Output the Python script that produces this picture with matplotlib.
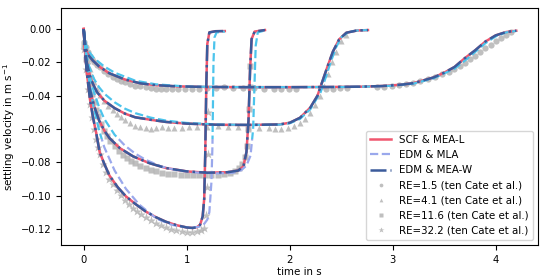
import numpy as np
import matplotlib
matplotlib.use("Agg")
import matplotlib.pyplot as plt
from matplotlib.patches import Rectangle

# model curves, SCF & MEA-L and EDM & MEA-W lie on top of each other
t15 = [0, 0.01, 0.025, 0.05, 0.09, 0.15, 0.25, 0.4, 0.55, 0.7, 0.9, 1.2, 1.6, 2.0, 2.4, 2.7, 2.9,
       3.0, 3.1, 3.2, 3.3, 3.4, 3.5, 3.6, 3.7, 3.8, 3.9, 4.0, 4.1, 4.2]
v15 = [0, -0.007, -0.0125, -0.016, -0.019, -0.0225, -0.0266, -0.0303, -0.0326, -0.0337, -0.0344,
       -0.0348, -0.0349, -0.0349, -0.0348, -0.0346, -0.0342, -0.0338, -0.0333, -0.0325, -0.0308,
       -0.029, -0.0262, -0.0228, -0.0175, -0.0128, -0.0075, -0.0038, -0.0018, -0.001]
t15d = [0, 0.02, 0.05, 0.1, 0.2, 0.3, 0.5, 0.7, 1.0, 1.5, 2.0, 2.5, 2.8, 3.0, 3.2, 3.4, 3.6, 3.7,
        3.8, 3.9, 4.0, 4.1, 4.2]
v15d = [0, -0.009, -0.0135, -0.0175, -0.0225, -0.0262, -0.031, -0.0332, -0.0345, -0.0349, -0.0349,
        -0.0348, -0.0345, -0.034, -0.0328, -0.0295, -0.0238, -0.019, -0.0138, -0.0085, -0.0044,
        -0.002, -0.0011]

t41 = [0, 0.01, 0.03, 0.06, 0.09, 0.13, 0.2, 0.3, 0.4, 0.5, 0.65, 0.8, 1.0, 1.3, 1.6, 1.9, 2.0,
       2.1, 2.2, 2.27, 2.32, 2.37, 2.42, 2.48, 2.55, 2.65, 2.76]
v41 = [0, -0.01, -0.02, -0.028, -0.033, -0.038, -0.043, -0.0475, -0.0508, -0.053, -0.0545, -0.0558,
       -0.0568, -0.0575, -0.0576, -0.0573, -0.0563, -0.0533, -0.0472, -0.04, -0.031, -0.022,
       -0.0135, -0.0062, -0.0022, -0.0009, -0.0006]
t41d = [0, 0.02, 0.05, 0.1, 0.15, 0.2, 0.3, 0.4, 0.5, 0.65, 0.8, 1.0, 1.3, 1.6, 1.9, 2.0, 2.1, 2.2,
        2.3, 2.35, 2.4, 2.45, 2.5, 2.57, 2.65, 2.76]
v41d = [0, -0.013, -0.022, -0.03, -0.035, -0.0388, -0.044, -0.0478, -0.0505, -0.0532, -0.055,
        -0.0564, -0.0573, -0.0576, -0.0574, -0.0566, -0.054, -0.0482, -0.038, -0.029, -0.0195,
        -0.011, -0.005, -0.0018, -0.0009, -0.0006]

t116 = [0, 0.01, 0.03, 0.06, 0.1, 0.15, 0.2, 0.25, 0.35, 0.48, 0.64, 0.8, 1.0, 1.2, 1.4, 1.5,
        1.55, 1.58, 1.6, 1.615, 1.63, 1.66, 1.76]
v116 = [0, -0.012, -0.025, -0.036, -0.046, -0.055, -0.061, -0.0655, -0.0715, -0.0765, -0.0806,
        -0.0835, -0.0855, -0.0863, -0.086, -0.085, -0.0826, -0.074, -0.055, -0.025, -0.006,
        -0.0015, -0.0006]
t116d = [0, 0.02, 0.05, 0.1, 0.15, 0.2, 0.3, 0.4, 0.5, 0.6, 0.75, 0.9, 1.1, 1.3, 1.45, 1.53, 1.58,
         1.62, 1.645, 1.66, 1.67, 1.69, 1.76]
v116d = [0, -0.014, -0.026, -0.038, -0.047, -0.054, -0.0635, -0.07, -0.0748, -0.0785, -0.0825,
         -0.0848, -0.0862, -0.0867, -0.0863, -0.0848, -0.082, -0.076, -0.06, -0.03, -0.01, -0.002,
         -0.0008]

t322 = [0, 0.01, 0.03, 0.06, 0.09, 0.12, 0.155, 0.2, 0.25, 0.33, 0.41, 0.5, 0.6, 0.7, 0.8, 0.9,
        1.0, 1.06, 1.1, 1.13, 1.155, 1.17, 1.18, 1.19, 1.2, 1.22, 1.28, 1.37]
v322 = [0, -0.01, -0.026, -0.042, -0.053, -0.062, -0.074, -0.081, -0.088, -0.095, -0.1005, -0.105,
        -0.1095, -0.113, -0.1158, -0.1178, -0.1192, -0.1195, -0.119, -0.1176, -0.1126, -0.102,
        -0.075, -0.035, -0.009, -0.002, -0.0013, -0.0012]
t322d = [0, 0.02, 0.05, 0.1, 0.15, 0.2, 0.3, 0.41, 0.54, 0.71, 0.85, 0.95, 1.05, 1.12, 1.17, 1.2,
         1.22, 1.24, 1.25, 1.255, 1.26, 1.27, 1.29, 1.37]
v322d = [0, -0.014, -0.03, -0.048, -0.061, -0.071, -0.085, -0.096, -0.1055, -0.114, -0.1175,
         -0.1188, -0.1192, -0.1188, -0.117, -0.1145, -0.11, -0.092, -0.07, -0.045, -0.02, -0.005,
         -0.002, -0.0015]

# experiments (ten Cate et al.)
c_t = [0.0, 0.02, 0.04, 0.06, 0.08, 0.1, 0.13, 0.16, 0.2, 0.24, 0.28, 0.32, 0.36, 0.4, 0.45, 0.5,
       0.55, 0.6, 0.65, 0.7, 0.75, 0.8, 0.86, 0.92, 0.98, 1.05, 1.12, 1.2, 1.28, 1.36, 1.45, 1.55,
       1.65, 1.75, 1.85, 1.92, 1.99, 2.06, 2.35, 2.42, 2.49, 2.56, 2.85, 2.92, 2.99, 3.06, 3.13,
       3.2, 3.27, 3.34, 3.41, 3.48, 3.55, 3.6, 3.65, 3.7, 3.75, 3.8, 3.85, 3.9, 3.95, 4.0, 4.05,
       4.1, 4.15]
c_v = [-0.008, -0.011, -0.014, -0.016, -0.018, -0.0195, -0.0215, -0.023, -0.025, -0.027, -0.0285,
       -0.03, -0.031, -0.032, -0.033, -0.034, -0.0345, -0.035, -0.0355, -0.0358, -0.036, -0.036,
       -0.0362, -0.0362, -0.036, -0.036, -0.0358, -0.0355, -0.0352, -0.035, -0.0352, -0.0354,
       -0.0356, -0.0358, -0.036, -0.0362, -0.0362, -0.0358, -0.036, -0.0358, -0.0356, -0.0355,
       -0.0348, -0.0346, -0.0342, -0.0337, -0.0331, -0.0324, -0.0314, -0.0302, -0.0288, -0.0272,
       -0.0255, -0.024, -0.0222, -0.0202, -0.0182, -0.016, -0.0138, -0.0115, -0.0093, -0.0072,
       -0.0052, -0.0034, -0.002]
tr_t = [0.0, 0.02, 0.04, 0.06, 0.08, 0.1, 0.13, 0.16, 0.2, 0.24, 0.28, 0.32, 0.36, 0.4, 0.45,
        0.5, 0.55, 0.6, 0.65, 0.7, 0.76, 0.82, 0.88, 0.95, 1.02, 1.1, 1.2, 1.3, 1.4, 1.5, 1.6,
        1.7, 1.8, 1.86, 1.92, 1.98, 2.04, 2.1, 2.15, 2.2, 2.25, 2.29, 2.33, 2.37, 2.41, 2.45, 2.5,
        2.55]
tr_v = [-0.009, -0.014, -0.019, -0.024, -0.028, -0.032, -0.036, -0.0395, -0.043, -0.046, -0.0485,
        -0.051, -0.053, -0.0545, -0.0565, -0.058, -0.059, -0.0595, -0.0598, -0.0595, -0.059,
        -0.0592, -0.0595, -0.0595, -0.059, -0.0588, -0.0588, -0.0585, -0.0586, -0.0588, -0.059,
        -0.0592, -0.0595, -0.0598, -0.0598, -0.0595, -0.058, -0.0565, -0.054, -0.0505, -0.0455,
        -0.04, -0.034, -0.027, -0.02, -0.0135, -0.007, -0.0035]
sq_t = [0.0, 0.02, 0.04, 0.06, 0.08, 0.1, 0.12, 0.14, 0.17, 0.2, 0.23, 0.26, 0.3, 0.34, 0.38,
        0.42, 0.46, 0.5, 0.55, 0.6, 0.65, 0.7, 0.76, 0.82, 0.88, 0.94, 1.0, 1.06, 1.12, 1.18,
        1.24, 1.3, 1.36, 1.42, 1.47, 1.51, 1.54, 1.57, 1.59, 1.6, 1.605, 1.61, 1.615]
sq_v = [-0.01, -0.018, -0.026, -0.033, -0.039, -0.044, -0.0485, -0.052, -0.057, -0.061, -0.064,
        -0.067, -0.0705, -0.073, -0.0755, -0.0775, -0.079, -0.0805, -0.082, -0.0835, -0.0845,
        -0.0852, -0.0862, -0.0868, -0.0872, -0.0875, -0.0876, -0.0878, -0.0876, -0.0875, -0.0875,
        -0.0874, -0.0872, -0.0864, -0.0852, -0.0835, -0.0812, -0.077, -0.07, -0.06, -0.048,
        -0.035, -0.022]
st_t = [0.0, 0.02, 0.04, 0.06, 0.08, 0.1, 0.12, 0.14, 0.16, 0.19, 0.22, 0.25, 0.28, 0.32, 0.36,
        0.4, 0.44, 0.48, 0.52, 0.56, 0.6, 0.65, 0.7, 0.75, 0.8, 0.85, 0.9, 0.95, 1.0, 1.05, 1.1,
        1.14, 1.17, 1.19, 1.2, 1.205, 1.21]
st_v = [-0.012, -0.024, -0.036, -0.045, -0.053, -0.06, -0.066, -0.071, -0.075, -0.081, -0.086,
        -0.09, -0.093, -0.0965, -0.0995, -0.1025, -0.105, -0.1075, -0.1095, -0.1112, -0.113,
        -0.115, -0.1165, -0.118, -0.119, -0.12, -0.1208, -0.1214, -0.1218, -0.1218, -0.1215,
        -0.121, -0.1195, -0.112, -0.095, -0.075, -0.05]

models = [(t15, v15, t15d, v15d), (t41, v41, t41d, v41d),
          (t116, v116, t116d, v116d), (t322, v322, t322d, v322d)]
exps = [(c_t, c_v, 'o', 'RE=1.5 (ten Cate et al.)'),
        (tr_t, tr_v, '^', 'RE=4.1 (ten Cate et al.)'),
        (sq_t, sq_v, 's', 'RE=11.6 (ten Cate et al.)'),
        (st_t, st_v, '*', 'RE=32.2 (ten Cate et al.)')]

red = '#f0566e'
cyan = '#4cc4ec'
lav = '#9aa8ec'
navy = '#3b5b9b'
y_split = -0.066

plt.rcParams['font.size'] = 7.2
fig = plt.figure(figsize=(5.5, 2.79), dpi=100)
ax = fig.add_axes([0.111, 0.122, 0.867, 0.849])

hs = []
for i, (t, v, td, vd) in enumerate(models):
    h1, = ax.plot(t, v, color=red, lw=1.8, zorder=3)
    top, = ax.plot(td, vd, color=cyan, lw=1.6, ls='--', zorder=4)
    top.set_clip_path(Rectangle((-1, y_split), 10, 1, transform=ax.transData))
    bot, = ax.plot(td, vd, color=lav, lw=1.6, ls='--', zorder=4)
    bot.set_clip_path(Rectangle((-1, -1), 10, 1 + y_split, transform=ax.transData))
    h3, = ax.plot(t, v, color=navy, lw=1.8, ls='-.', zorder=5)
    if i == 0:
        hs = [h1, bot, h3]

for t, v, m, lab in exps:
    ms = 6.5 if m == '*' else 4.5
    h, = ax.plot(t, v, ls='none', marker=m, ms=ms, color='#b4b4b4', alpha=0.85, mec='none', zorder=2)
    hs.append(h)

labels = ['SCF & MEA-L', 'EDM & MLA', 'EDM & MEA-W'] + [e[3] for e in exps]
ax.legend(hs, labels, loc='lower right', fontsize=7.4, markerscale=0.6)

ax.set_xlim(-0.22, 4.41)
ax.set_ylim(-0.1297, 0.0126)
ax.set_xticks([0, 1, 2, 3, 4])
ax.set_yticks([0.0, -0.02, -0.04, -0.06, -0.08, -0.10, -0.12])
ax.set_xlabel('time in s', fontsize=7.4, labelpad=1.5)
ax.set_ylabel('settling velocity in m s$^{-1}$', fontsize=7.4, labelpad=2.5)

fig.savefig('out.png', dpi=100)
